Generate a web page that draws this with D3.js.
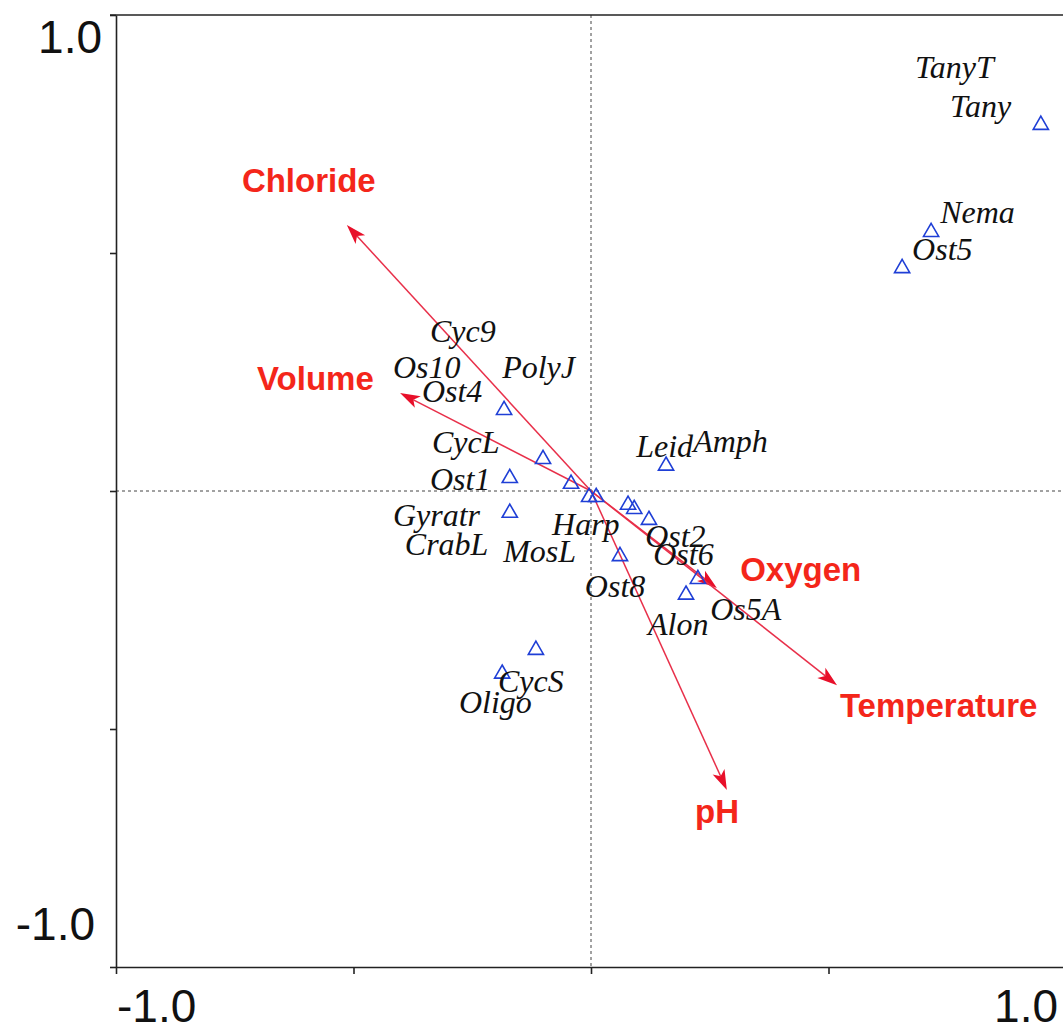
<!DOCTYPE html>
<html>
<head>
<meta charset="utf-8">
<title>CCA biplot</title>
<script src="https://cdn.jsdelivr.net/npm/d3@7"></script>
<style>
  body { margin: 0; background: #fff; }
  .species {
    font-family: "Liberation Serif", "Times New Roman", serif;
    font-style: italic;
    font-size: 32px;
    fill: #111;
  }
  .env {
    font-family: "Liberation Sans", Arial, sans-serif;
    font-weight: bold;
    font-size: 33px;
    fill: #f4261a;
  }
  .ticklabel {
    font-family: "Liberation Sans", Arial, sans-serif;
    font-size: 46px;
    fill: #111;
  }
</style>
</head>
<body>
<script>

  // sample / species scores (triangles), axis 1 and axis 2
  var pointX = [0.947, 0.716, 0.655, -0.183, -0.101, -0.171, -0.042, -0.004, 0.011,
                0.078, 0.091, -0.171, 0.122, 0.061, 0.158, 0.225, 0.200, -0.116, -0.187];
  var pointY = [0.769, 0.544, 0.468, 0.170, 0.067, 0.027, 0.015, -0.013, -0.013,
                -0.029, -0.038, -0.046, -0.061, -0.137, 0.053, -0.185, -0.218, -0.334, -0.384];

  // species labels and where they sit (axis units, start of text / baseline)
  var speciesNames = ["TanyT", "Tany", "Nema", "Ost5", "Cyc9", "Os10", "PolyJ", "Ost4",
                      "CycL", "Ost1", "Leid", "Amph", "Gyratr", "CrabL", "Harp", "MosL",
                      "Ost2", "Ost6", "Ost8", "Alon", "Os5A", "CycS", "Oligo"];
  var labelX = [0.682, 0.756, 0.735, 0.676, -0.339, -0.417, -0.187, -0.356,
                -0.335, -0.339, 0.095, 0.215, -0.417, -0.392, -0.082, -0.185,
                0.114, 0.131, -0.013, 0.120, 0.251, -0.196, -0.278];
  var labelY = [0.868, 0.786, 0.563, 0.485, 0.313, 0.237, 0.237, 0.187,
                0.080, 0.002, 0.071, 0.082, -0.074, -0.134, -0.092, -0.149,
                -0.118, -0.155, -0.223, -0.303, -0.271, -0.422, -0.466];

  // environmental variables (arrow tips) and their labels
  var envNames = ["Chloride", "Volume", "Oxygen", "Temperature", "pH"];
  var envX = [-0.514, -0.402, 0.265, 0.518, 0.286];
  var envY = [0.559, 0.206, -0.204, -0.408, -0.628];
  var envLabelX = [-0.735, -0.703, 0.314, 0.524, 0.219];
  var envLabelY = [0.628, 0.212, -0.189, -0.475, -0.697];

  var ticks = [-1, -0.5, 0, 0.5, 1];
  var tickLabels = ["-1.0", "", "", "", "1.0"];

  var width = 1063,
    height = 1032;

  var x = d3.scaleLinear().domain([-1, 1]).range([116, 1066]);
  var y = d3.scaleLinear().domain([-1, 1]).range([967, 15]);

  var svg = d3.select("body").append("svg")
    .attr("width", width)
    .attr("height", height);

  // zero lines
  svg.append("line")
    .attr("x1", x(0)).attr("x2", x(0))
    .attr("y1", y(1)).attr("y2", y(-1))
    .attr("stroke", "#444").attr("stroke-width", 1)
    .attr("stroke-dasharray", "3,3");
  svg.append("line")
    .attr("x1", x(-1)).attr("x2", x(1))
    .attr("y1", y(0)).attr("y2", y(0))
    .attr("stroke", "#444").attr("stroke-width", 1)
    .attr("stroke-dasharray", "3,3");

  // axes
  svg.append("g")
    .attr("transform", `translate(${x(-1)},0)`)
    .call(d3.axisLeft(y).tickValues(ticks).tickSize(6).tickSizeOuter(0).tickFormat(""));
  svg.append("g")
    .attr("transform", `translate(0,${y(-1)})`)
    .call(d3.axisBottom(x).tickValues(ticks).tickSize(7).tickSizeOuter(0).tickFormat(""));
  svg.selectAll(".domain, .tick line").attr("stroke", "#222").attr("stroke-width", 1.6);

  // top and right frame
  svg.append("line")
    .attr("x1", x(-1) - 6).attr("x2", x(1))
    .attr("y1", y(1)).attr("y2", y(1))
    .attr("stroke", "#222").attr("stroke-width", 1.6);
  svg.append("line")
    .attr("x1", x(1)).attr("x2", x(1))
    .attr("y1", y(1)).attr("y2", y(-1))
    .attr("stroke", "#222").attr("stroke-width", 1.6);

  // tick labels (only the ends, as in CANOCO plots)
  svg.append("text").attr("class", "ticklabel")
    .attr("x", x(-1) - 14).attr("y", y(1) + 38)
    .attr("text-anchor", "end").text(tickLabels[4]);
  svg.append("text").attr("class", "ticklabel")
    .attr("x", x(-1) - 21).attr("y", y(-1) - 27)
    .attr("text-anchor", "end").text(tickLabels[0]);
  svg.append("text").attr("class", "ticklabel")
    .attr("x", x(-1) + 1).attr("y", y(-1) + 55)
    .attr("text-anchor", "start").text(tickLabels[0]);
  svg.append("text").attr("class", "ticklabel")
    .attr("x", x(1) - 8).attr("y", y(-1) + 55)
    .attr("text-anchor", "end").text(tickLabels[4]);

  // environmental arrows
  var env = envNames.map((n, i) => ({ name: n, x: envX[i], y: envY[i], lx: envLabelX[i], ly: envLabelY[i] }));
  var headLen = 20, headW = 6.5;

  var arrows = svg.append("g");
  env.forEach(function(d) {
    var x0 = x(0), y0 = y(0), x1 = x(d.x), y1 = y(d.y);
    var len = Math.hypot(x1 - x0, y1 - y0);
    var ux = (x1 - x0) / len, uy = (y1 - y0) / len;
    var bx = x1 - ux * headLen, by = y1 - uy * headLen;
    arrows.append("line")
      .attr("x1", x0).attr("y1", y0)
      .attr("x2", bx + ux * 5).attr("y2", by + uy * 5)
      .attr("stroke", "#e8304a").attr("stroke-width", 1.5);
    arrows.append("polygon")
      .attr("points", [
        [x1, y1],
        [bx - uy * headW, by + ux * headW],
        [bx + ux * 5, by + uy * 5],
        [bx + uy * headW, by - ux * headW]
      ].map(p => p.join(",")).join(" "))
      .attr("fill", "#e8102a");
  });

  svg.append("g")
    .selectAll("text")
    .data(env)
    .enter().append("text")
    .attr("class", "env")
    .attr("x", d => x(d.lx))
    .attr("y", d => y(d.ly))
    .text(d => d.name);

  // triangles
  var tri = d3.symbol().type(d3.symbolTriangle).size(100);
  svg.append("g")
    .selectAll("path")
    .data(pointX.map((v, i) => [v, pointY[i]]))
    .enter().append("path")
    .attr("d", tri)
    .attr("transform", d => `translate(${x(d[0])},${y(d[1])})`)
    .attr("fill", "none")
    .attr("stroke", "#1f3fd6")
    .attr("stroke-width", 1.6);

  // species labels
  svg.append("g")
    .selectAll("text")
    .data(speciesNames)
    .enter().append("text")
    .attr("class", "species")
    .attr("x", (d, i) => x(labelX[i]))
    .attr("y", (d, i) => y(labelY[i]))
    .text(d => d);

</script>
</body>
</html>
